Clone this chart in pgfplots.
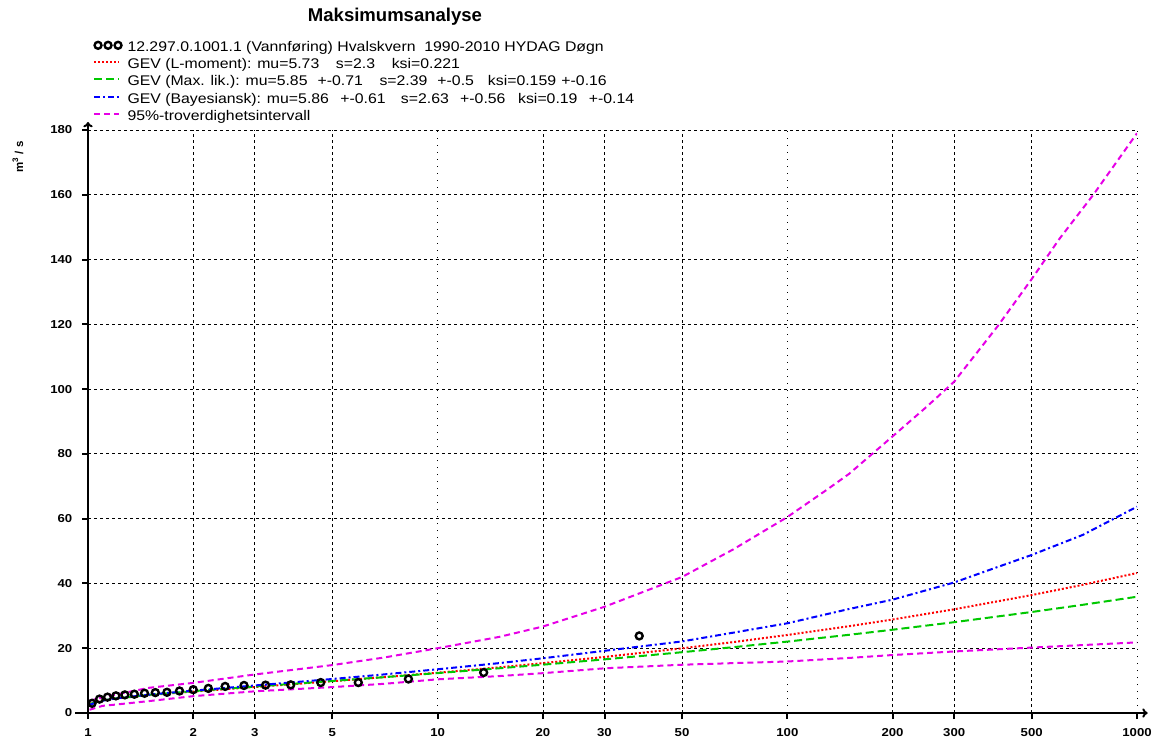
\documentclass[border=0pt]{standalone}
\usepackage{fontspec}
\setmainfont{Liberation Sans}
\newfontfamily\legfont[FakeStretch=1.13]{Liberation Sans}
\newfontfamily\tickfont[FakeStretch=1.15]{Liberation Sans}
\usepackage{pgfplots}
\pgfplotsset{compat=1.18}
\usetikzlibrary{arrows.meta}
\definecolor{cred}{RGB}{255,0,0}
\definecolor{cgreen}{RGB}{0,200,0}
\definecolor{cblue}{RGB}{0,0,255}
\definecolor{cmag}{RGB}{230,0,230}
\pgfplotsset{
  linelegend/.style={legend image code/.code={\draw[##1] (0pt,2.4pt) -- (19pt,2.4pt);}},
  threemarks/.style={legend image code/.code={\draw[##1, mark repeat=1, mark phase=1] plot coordinates {(3pt,1.8pt) (10.5pt,1.8pt) (18pt,1.8pt)};}},
}
\begin{document}
\begin{tikzpicture}
\useasboundingbox (0,0) rectangle (864pt,555pt);
\node[font=\bfseries\fontsize{13.9pt}{16pt}\selectfont] at (296.25pt,542.25pt) {Maksimumsanalyse};
\node[font=\bfseries\fontsize{8.6pt}{10pt}\selectfont, rotate=90] at (13.5pt,437.25pt) {m\textsuperscript{3} / s};
\begin{axis}[
  at={(66pt,20.25pt)}, anchor=south west,
  scale only axis, width=786.75pt, height=437.25pt,
  xmode=log, xmin=1, xmax=1000, ymin=0, ymax=180,
  axis lines=left,
  axis line style={line width=1.5pt, black},
  x axis line style={-{To[length=4pt,width=7pt]}, shorten <=-9.75pt, shorten >=-8pt},
  y axis line style={-{To[length=4pt,width=7pt]}, shorten <=-3.75pt, shorten >=-6pt},
  tick align=outside, major tick length=4.5pt,
  tick style={line width=1.5pt, black},
  xminorticks=false, yminorticks=false,
  xtick={1,2,3,5,20,30,50,200,300,500},
  xticklabels={1,2,3,5,20,30,50,200,300,500},
  extra x ticks={10,100,1000},
  extra x tick labels={10,100,1000},
  extra x tick style={grid style={black, line width=0.75pt, dash pattern=on 0.75pt off 4.5pt}},
  ytick={0,20,...,180},
  xmajorgrids, ymajorgrids,
  grid style={black, line width=0.6pt, dash pattern=on 2.25pt off 2.25pt},
  /pgf/number format/assume math mode=true,
  ticklabel style={font=\tickfont\bfseries\fontsize{8.6pt}{10pt}\selectfont},
  yticklabel style={xshift=-3.75pt},
  xticklabel style={yshift=-3.5pt},
  legend cell align=left,
  legend style={at={(0.0048,1.1526)}, anchor=north west, draw=none, fill=none,
    inner sep=0pt, outer sep=0pt, row sep=3.1pt, column sep=4.5pt,
    font=\legfont\fontsize{10.5pt}{12pt}\selectfont,
    nodes={inner sep=0pt, text height=7.5pt, text depth=2.5pt}},
  linelegend,
]
\addplot[only marks, mark=o, mark size=2.6pt, mark options={line width=1.8pt, black}, threemarks]
coordinates {
(37.71,23.8) (13.54,12.5) (8.25,10.5) (5.93,9.4) (4.63,9.4) (3.80,8.7) (3.22,8.6)
(2.794,8.5) (2.467,8.2) (2.209,7.6) (2.000,7.2) (1.827,6.8) (1.682,6.4) (1.558,6.3)
(1.451,6.1) (1.357,5.8) (1.275,5.6) (1.202,5.3) (1.137,4.9) (1.079,4.3) (1.027,3.0)
};
\addlegendentry{12.297.0.1001.1 (Vannføring) Hvalskvern\ \ 1990-2010 HYDAG Døgn}
\addplot[cred, line width=1.5pt, dash pattern=on 1.5pt off 1.5pt] coordinates {
(1.01,2.75) (1.02,3.01) (1.1,3.90) (1.2,4.47) (1.5,5.52) (2,6.61) (3,8.03) (5,9.82)
(7,11.06) (10,12.44) (15,14.11) (20,15.39) (30,17.31) (50,19.97) (70,21.89) (100,24.09)
(150,26.79) (200,28.87) (300,32.02) (500,36.41) (700,39.58) (1000,43.22)
};
\addlegendentry{GEV (L-moment): mu=5.73\hspace{12.5pt}s=2.3\hspace{12.5pt}ksi=0.221}
\addplot[cgreen, line width=1.5pt, dash pattern=on 6pt off 3pt] coordinates {
(1.01,2.61) (1.02,2.91) (1.1,3.90) (1.2,4.52) (1.5,5.63) (2,6.75) (3,8.17) (5,9.90)
(7,11.05) (10,12.32) (15,13.81) (20,14.92) (30,16.56) (50,18.77) (70,20.32) (100,22.05)
(150,24.14) (200,25.71) (300,28.04) (500,31.19) (700,33.41) (1000,35.90)
};
\addlegendentry{GEV (Max. lik.): mu=5.85\hspace{7.5pt}+-0.71\hspace{12.5pt}s=2.39\hspace{7.5pt}+-0.5\hspace{10.5pt}ksi=0.159\hspace{4pt}+-0.16}
\addplot[cblue, line width=1.5pt, dash pattern=on 4.5pt off 2.25pt on 1.5pt off 2.25pt] coordinates {
(1.01,2.4) (1.02,2.7) (1.1,3.8) (1.2,4.5) (1.5,5.7) (2,6.9) (3,8.5) (5,10.5)
(7,11.9) (10,13.5) (15,15.4) (20,16.9) (30,19.2) (50,22.1) (70,24.8) (100,27.7)
(150,32.1) (200,35.0) (300,40.3) (400,45.1) (500,48.8) (700,55.0) (1000,63.7)
};
\addlegendentry{GEV (Bayesiansk): mu=5.86\hspace{8.5pt}+-0.61\hspace{11.5pt}s=2.63\hspace{8.5pt}+-0.56\hspace{9.5pt}ksi=0.19\hspace{8.5pt}+-0.14}
\addplot[cmag, line width=1.5pt, dash pattern=on 4.5pt off 3pt] coordinates {
(1.01,3.8) (1.1,4.8) (1.2,5.7) (1.5,7.8) (2,9.3) (3,11.9) (5,14.8) (7,17.1)
(10,20.0) (15,23.5) (20,26.7) (30,32.8) (50,42.0) (70,50.5) (100,60.5) (130,69.0) (150,73.8)
(200,85.4) (250,94.5) (300,102.3) (400,119.5) (500,134.0) (600,146.4) (750,160.0) (1000,179.0)
};
\addlegendentry{95\%-troverdighetsintervall}
\addplot[cmag, line width=1.5pt, dash pattern=on 4.5pt off 3pt, forget plot] coordinates {
(1.01,1.0) (1.1,2.2) (1.2,2.6) (1.5,3.7) (2,5.2) (3,6.7) (5,8.0) (7,9.0)
(10,10.4) (15,11.4) (20,12.3) (30,13.8) (50,14.9) (70,15.4) (100,15.9) (150,17.0)
(200,17.9) (300,19.0) (500,20.2) (1000,21.8)
};
\end{axis}
\end{tikzpicture}
\end{document}
